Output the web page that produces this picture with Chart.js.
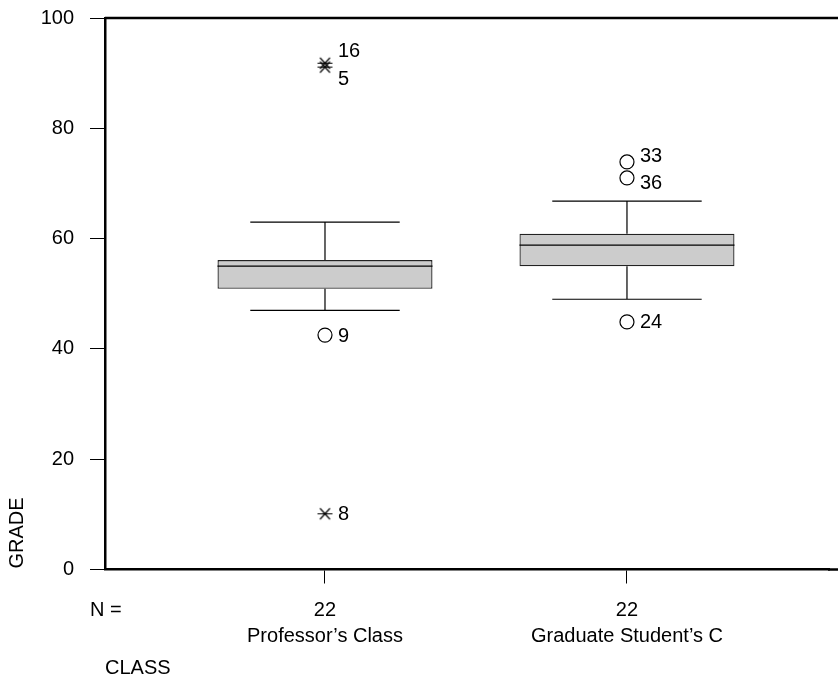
<!DOCTYPE html>
<html lang="en">
<head>
    <meta charset="UTF-8">
    <title>Grade by Class</title>
    <script src="https://cdn.jsdelivr.net/npm/chart.js"></script>
    <style>
        html, body {
            margin: 0;
            padding: 0;
            background: #fff;
        }
        #wrap {
            width: 838px;
            height: 678px;
        }
    </style>
</head>
<body>
    <div id="wrap"><canvas id="chart"></canvas></div>
    <script>
        // box plot summary per class
        var categories = ['Professor\u2019s Class', 'Graduate Student\u2019s C'];
        var nCounts = ['22', '22'];
        var whiskerLow = [47, 49];
        var q1 = [50.9, 55];
        var median = [55, 58.8];
        var q3 = [56.1, 60.9];
        var whiskerHigh = [63, 66.8];

        // outliers (circles) and extremes (stars), group is 1-based class index
        var outlierGroup = [1, 2, 2, 2];
        var outlierValue = [42.5, 73.9, 71.0, 44.9];
        var outlierCase = ['9', '33', '36', '24'];
        var outlierPlace = ['right', 'above', 'below', 'right'];

        var extremeGroup = [1, 1, 1];
        var extremeValue = [91.8, 91.1, 10.1];
        var extremeCase = ['16', '5', '8'];
        var extremePlace = ['above', 'below', 'right'];

        var yTicks = [0, 20, 40, 60, 80, 100];

        var FONT = '"Liberation Sans", Arial, sans-serif';

        // asterisk marker for extreme values
        function makeStar() {
            var c = document.createElement('canvas');
            c.width = 17; c.height = 17;
            var g = c.getContext('2d');
            g.strokeStyle = '#000';
            g.lineWidth = 1.2;
            g.beginPath();
            g.moveTo(1, 8.5); g.lineTo(16, 8.5);
            g.moveTo(3.5, 3); g.lineTo(13.5, 14);
            g.moveTo(3.5, 14); g.lineTo(13.5, 3);
            g.stroke();
            return c;
        }

        var boxData = categories.map(function (c, i) {
            return { x: i + 1, y: [q1[i], q3[i]] };
        });
        var outlierData = outlierValue.map(function (v, i) {
            return { x: outlierGroup[i], y: v, label: outlierCase[i], place: outlierPlace[i] };
        });
        var extremeData = extremeValue.map(function (v, i) {
            return { x: extremeGroup[i], y: v, label: extremeCase[i], place: extremePlace[i] };
        });

        // medians, whiskers, case labels, extra texts
        var boxPlugin = {
            id: 'boxExtras',
            afterDatasetsDraw: function (chart) {
                var ctx = chart.ctx;
                var xs = chart.scales.x, ys = chart.scales.y;
                var barMeta = chart.getDatasetMeta(0);
                ctx.save();
                ctx.strokeStyle = '#000';
                ctx.lineWidth = 1.2;
                categories.forEach(function (c, i) {
                    var x = xs.getPixelForValue(i + 1);
                    var half = barMeta.data[i].width / 2;
                    var cap = half * 0.695;
                    var yMed = ys.getPixelForValue(median[i]);
                    ctx.beginPath();
                    ctx.moveTo(x - half, yMed); ctx.lineTo(x + half, yMed);
                    // upper whisker
                    ctx.moveTo(x, ys.getPixelForValue(q3[i])); ctx.lineTo(x, ys.getPixelForValue(whiskerHigh[i]));
                    ctx.moveTo(x - cap, ys.getPixelForValue(whiskerHigh[i])); ctx.lineTo(x + cap, ys.getPixelForValue(whiskerHigh[i]));
                    // lower whisker
                    ctx.moveTo(x, ys.getPixelForValue(q1[i])); ctx.lineTo(x, ys.getPixelForValue(whiskerLow[i]));
                    ctx.moveTo(x - cap, ys.getPixelForValue(whiskerLow[i])); ctx.lineTo(x + cap, ys.getPixelForValue(whiskerLow[i]));
                    ctx.stroke();
                });

                // case number labels
                ctx.fillStyle = '#000';
                ctx.font = '20px ' + FONT;
                ctx.textAlign = 'left';
                ctx.textBaseline = 'middle';
                [1, 2].forEach(function (di) {
                    var meta = chart.getDatasetMeta(di);
                    var data = chart.data.datasets[di].data;
                    meta.data.forEach(function (pt, k) {
                        var d = data[k];
                        var ty = pt.y;
                        if (d.place !== 'right') {
                            // find the partner point and center the pair of labels on it
                            var other = meta.data.find(function (p2, j) {
                                return j !== k && data[j].x === d.x && data[j].place !== 'right';
                            });
                            var mid = other ? (pt.y + other.y) / 2 : pt.y;
                            ty = d.place === 'above' ? mid - 14.5 : mid + 13;
                        }
                        ctx.fillText(d.label, pt.x + 13, ty + 1);
                    });
                });

                // frame lines running to the right edge (top and bottom)
                ctx.lineWidth = 2.5;
                ctx.beginPath();
                ctx.moveTo(chart.chartArea.left, chart.chartArea.top);
                ctx.lineTo(chart.width, chart.chartArea.top);
                ctx.moveTo(chart.chartArea.right - 1, chart.chartArea.bottom);
                ctx.lineTo(chart.width, chart.chartArea.bottom);
                ctx.stroke();

                var b = chart.chartArea.bottom;
                ctx.fillText('N =', chart.chartArea.left - 15, b + 41);
                ctx.fillText('CLASS', chart.chartArea.left, b + 99);

                ctx.translate(17, b - 1);
                ctx.rotate(-Math.PI / 2);
                ctx.textAlign = 'left';
                ctx.fillText('GRADE', 0, 0);
                ctx.restore();
            }
        };

        var chart = new Chart(document.getElementById('chart'), {
            type: 'bar',
            data: {
                datasets: [
                    {
                        type: 'bar',
                        data: boxData,
                        backgroundColor: '#cccccc',
                        borderColor: '#222222',
                        borderWidth: 1.3,
                        borderSkipped: false,
                        categoryPercentage: 1,
                        barPercentage: 0.712
                    },
                    {
                        type: 'scatter',
                        data: outlierData,
                        pointStyle: 'circle',
                        pointRadius: 7,
                        pointBackgroundColor: '#fff',
                        pointBorderColor: '#000',
                        pointBorderWidth: 1.2
                    },
                    {
                        type: 'scatter',
                        data: extremeData,
                        pointStyle: makeStar(),
                        pointRadius: 8
                    }
                ]
            },
            options: {
                responsive: true,
                maintainAspectRatio: false,
                animation: false,
                events: [],
                layout: { padding: { top: 18, right: 0, left: 0, bottom: 0 } },
                plugins: {
                    legend: { display: false },
                    tooltip: { enabled: false }
                },
                scales: {
                    x: {
                        type: 'linear',
                        offset: false,
                        min: 0.2715,
                        max: 2.669,
                        afterBuildTicks: function (scale) {
                            scale.ticks = categories.map(function (c, i) { return { value: i + 1 }; });
                        },
                        afterFit: function (scale) {
                            scale.height = 108.5;
                            scale.paddingLeft = 0;
                            scale.paddingRight = 0;
                        },
                        ticks: {
                            autoSkip: false,
                            maxRotation: 0,
                            color: '#000',
                            padding: 14,
                            font: { family: FONT, size: 20, lineHeight: 1.3 },
                            callback: function (value) {
                                var i = Math.round(value) - 1;
                                return [nCounts[i], categories[i]];
                            }
                        },
                        grid: {
                            offset: false,
                            drawOnChartArea: false,
                            drawTicks: true,
                            tickLength: 14,
                            color: '#000',
                            lineWidth: 1
                        },
                        border: { display: true, color: '#000', width: 2.5 }
                    },
                    y: {
                        min: 0,
                        max: 100,
                        afterBuildTicks: function (scale) {
                            scale.ticks = yTicks.map(function (v) { return { value: v }; });
                        },
                        afterFit: function (scale) {
                            scale.width = 105;
                            scale.paddingTop = 0;
                            scale.paddingBottom = 0;
                        },
                        ticks: {
                            color: '#000',
                            padding: 16,
                            font: { family: FONT, size: 20 }
                        },
                        grid: {
                            drawOnChartArea: false,
                            drawTicks: true,
                            tickLength: 15,
                            color: '#000',
                            lineWidth: 1
                        },
                        border: { display: true, color: '#000', width: 2.5 }
                    }
                }
            },
            plugins: [boxPlugin]
        });
    </script>
</body>
</html>
